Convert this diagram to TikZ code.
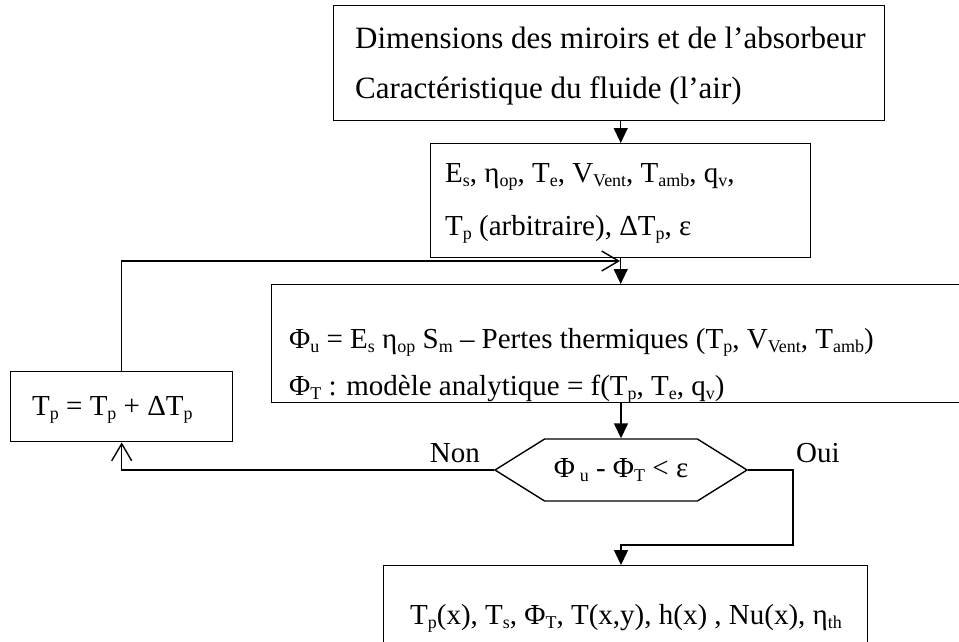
\documentclass[tikz,border=0pt]{standalone}
\usepackage{fontspec}
\setmainfont{Liberation Serif}
\usetikzlibrary{arrows.meta, shapes.symbols, positioning}
\tikzset{
    panel/.style={rectangle, draw, line width=1.4pt, inner sep=0pt},
    line0/.style={font=\fontsize{29}{35}\selectfont, anchor=base west, inner sep=0pt},
    line1/.style={line0, font=\fontsize{31}{37}\selectfont},
    flow/.style={line width=1.4pt, -{Triangle[length=15pt, width=14pt]}},
    back/.style={line width=1.4pt, -{Straight Barb[length=17pt, width=20pt, line width=1.4pt]}},
    test/.style={signal, signal to=west and east, draw, line width=1.4pt, signal pointer angle=64,
        minimum width=252pt, minimum height=62pt, inner sep=0pt, font=\fontsize{29}{35}\selectfont},
}
\newcommand{\sbs}[1]{\raisebox{-0.14em}{\fontsize{18}{18}\selectfont #1}}

\begin{document}
\begin{tikzpicture}[x=1pt, y=-1pt]
    \useasboundingbox (0,0) rectangle (959,641);
    \clip (0,0) rectangle (959,641);

    % boites
    \node[panel, anchor=north west, minimum width=551pt, minimum height=115pt] (dims) at (333,5) {};
    \node[panel, anchor=north west, minimum width=380pt, minimum height=114pt] (params) at (430,143) {};
    \node[panel, anchor=north west, minimum width=720pt, minimum height=118pt] (model) at (271,284) {};
    \node[panel, anchor=north west, minimum width=222pt, minimum height=70pt] (update) at (10,371) {};
    \node[test] (cond) at (621,470) {Φ\,\sbs{u} - Φ\sbs{T} < ε};
    \node[panel, anchor=north west, minimum width=484pt, minimum height=100pt] (results) at (383,565) {};

    % textes
    \node[line1] (dims1) at (355,48) {Dimensions des miroirs et de l’absorbeur};
    \node[line1] (dims2) at (355,98) {Caractéristique du fluide (l’air)};
    \node[line0] (params1) at (445,182) {E\sbs{s}, η\sbs{op}, T\sbs{e}, V\sbs{Vent}, T\sbs{amb}, q\sbs{v},};
    \node[line0] (params2) at (445,235) {T\sbs{p} (arbitraire), ΔT\sbs{p}, ε};
    \node[line0] (model1) at (289,348) {Φ\sbs{u} = E\sbs{s} η\sbs{op} S\sbs{m} – Pertes thermiques (T\sbs{p}, V\sbs{Vent}, T\sbs{amb})};
    \node[line0] (model2) at (289,395) {Φ\sbs{T} : modèle analytique = f(T\sbs{p}, T\sbs{e}, q\sbs{v})};
    \node[line0] (update1) at (32,415) {T\sbs{p} = T\sbs{p} + ΔT\sbs{p}};
    \node[line0] (results1) at (410,624) {T\sbs{p}(x), T\sbs{s}, Φ\sbs{T}, T(x,y), h(x) , Nu(x), η\sbs{th}};
    \node[line0, anchor=base east] (non) at (480,462) {Non};
    \node[line0] (oui) at (796,462) {Oui};

    % liaisons
    \coordinate (join) at (620,261);
    \coordinate (bend) at (793,545);
    \draw[flow] (params.north |- dims.south) -- (params.north);
    \draw[back] (update.north) |- (join);
    \draw[flow] (params.south) -- (params.south |- model.north);
    \draw[flow] (cond.north |- model.south) -- (cond.north);
    \draw[back] (cond.west) -| (update.south);
    \draw[flow] (cond.east) -| (bend) -| (results.north -| cond.south);

\end{tikzpicture}
\end{document}
